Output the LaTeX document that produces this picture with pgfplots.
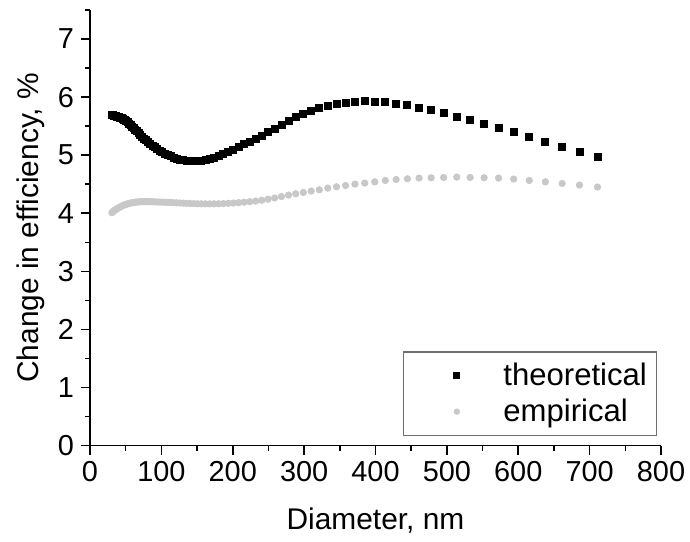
\documentclass[border=0pt]{standalone}
\usepackage{fontspec}
\setmainfont{Liberation Sans}
\usepackage{pgfplots}
\usepackage{pgfplotstable}
\pgfplotsset{compat=1.18}
\definecolor{empgray}{RGB}{200,200,200}
\definecolor{legframe}{RGB}{110,110,110}

\pgfplotstableread{
d     th     em
30.7  5.690  4.010
31.8  5.690  4.020
33.0  5.680  4.035
34.2  5.680  4.050
35.5  5.675  4.060
36.8  5.670  4.070
38.2  5.665  4.080
39.6  5.660  4.090
41.0  5.655  4.100
42.5  5.645  4.110
44.1  5.635  4.120
45.7  5.630  4.130
47.4  5.615  4.140
49.1  5.600  4.148
50.9  5.585  4.155
52.8  5.565  4.162
54.8  5.545  4.170
56.8  5.520  4.175
58.9  5.495  4.180
61.0  5.470  4.185
63.3  5.440  4.190
65.6  5.410  4.193
68.0  5.380  4.196
70.5  5.350  4.198
73.1  5.315  4.200
75.8  5.285  4.200
78.6  5.255  4.200
81.4  5.225  4.200
84.4  5.195  4.199
87.5  5.165  4.198
90.8  5.135  4.196
94.1  5.105  4.195
97.6  5.075  4.193
101.1 5.050  4.192
104.9 5.020  4.190
108.7 5.000  4.188
112.7 4.980  4.186
116.9 4.960  4.183
121.2 4.940  4.180
125.6 4.925  4.177
130.3 4.915  4.174
135.1 4.905  4.171
140.0 4.900  4.168
145.2 4.900  4.166
150.5 4.900  4.164
156.0 4.905  4.163
161.8 4.915  4.162
167.7 4.935  4.162
173.9 4.960  4.163
180.3 4.990  4.164
186.9 5.025  4.167
193.8 5.060  4.171
200.9 5.095  4.176
208.3 5.140  4.183
216.0 5.190  4.191
223.9 5.230  4.200
232.2 5.285  4.210
240.7 5.340  4.225
249.5 5.400  4.243
258.7 5.460  4.263
268.2 5.525  4.288
278.1 5.590  4.313
288.3 5.655  4.336
298.9 5.708  4.358
309.9 5.765  4.382
321.3 5.811  4.404
333.1 5.851  4.433
345.4 5.885  4.456
358.1 5.908  4.478
371.2 5.925  4.502
384.9 5.932  4.520
399.0 5.925  4.542
413.7 5.915  4.564
428.9 5.891  4.582
444.7 5.863  4.594
461.0 5.822  4.606
478.0 5.777  4.611
495.5 5.725  4.616
513.8 5.661  4.623
532.6 5.604  4.616
552.2 5.541  4.611
572.5 5.467  4.606
593.6 5.398  4.589
615.4 5.312  4.564
638.0 5.236  4.542
661.5 5.150  4.513
685.8 5.059  4.485
711.0 4.967  4.451
}\effdata

\begin{document}
\begin{tikzpicture}
\begin{axis}[
  scale only axis,
  width=285.5bp, height=217.9bp,
  axis lines*=left,
  axis line style={line width=0.8pt, black},
  xmin=0, xmax=800, ymin=0, ymax=7.5,
  xtick={0,100,...,800}, minor x tick num=1,
  ytick={0,1,...,7}, minor ytick={0.5,1.5,...,7.5},
  tick align=outside,
  major tick length=4.5bp, minor tick length=2.5bp,
  every tick/.style={line width=0.8pt, black},
  ticklabel style={font=\fontsize{14.5}{17}\selectfont},
  /pgf/number format/assume math mode=true,
  label style={font=\fontsize{15}{18}\selectfont},
  xlabel={Diameter, nm},
  xlabel style={yshift=-6bp},
  ylabel={Change in efficiency, \%},
  clip=false,
  legend cell align=left,
  legend style={at={(axis cs:795,0.167)}, anchor=south east,
    draw=legframe, line width=0.6pt,
    font=\fontsize{15.6}{18.5}\selectfont,
    inner xsep=3bp, inner ysep=3.5bp, row sep=1.2bp},
]
\addplot[only marks, mark=square*, mark size=1.75bp, black,
  legend image code/.code={
    \node[draw=none, fill=none, inner sep=0pt, minimum size=0pt] at (0bp,0bp) {};
    \node[draw=none, fill=none, inner sep=0pt, minimum size=0pt] at (45bp,0bp) {};
    \fill[draw=none, black] (22.25bp,-1.75bp) rectangle ++(3.5bp,3.5bp);
  }]
  table[x=d, y=th] {\effdata};
\addlegendentry{theoretical}
\addplot[only marks, mark=*, mark size=1.6bp, empgray,
  mark options={draw=empgray, fill=empgray},
  legend image code/.code={
    \node[draw=none, fill=none, inner sep=0pt, minimum size=0pt] at (0bp,0bp) {};
    \node[draw=none, fill=none, inner sep=0pt, minimum size=0pt] at (45bp,0bp) {};
    \fill[draw=none, empgray] (24bp,0bp) circle (1.6bp);
  }]
  table[x=d, y=em] {\effdata};
\addlegendentry{empirical}
\coordinate (o) at (rel axis cs:0,0);
\end{axis}
\pgfresetboundingbox
\path ([shift={(-45bp,-48.15bp)}]o) rectangle ([shift={(300bp,222.85bp)}]o);
\end{tikzpicture}
\end{document}
